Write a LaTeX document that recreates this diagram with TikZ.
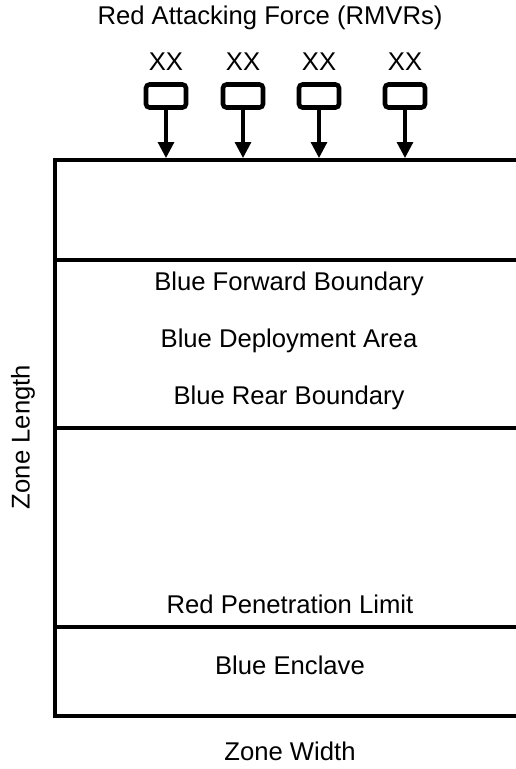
\documentclass[tikz,border=0pt]{standalone}
\usepackage{fontspec}
\setmainfont{Liberation Sans}
\usetikzlibrary{positioning,arrows.meta}

\begin{document}
\begin{tikzpicture}[
  x=0.02cm, y=-0.02cm,
  lbl/.style={font=\fontsize{14.6}{17}\selectfont},
  unit/.style={draw, line width=2.6pt, rounded corners=2pt, minimum width=0.8cm, minimum height=0.46cm, inner sep=0pt},
  arr/.style={-{Triangle[length=3.2mm, width=3.2mm]}, line width=1.8pt},
  zone/.style={line width=1.8pt},
  node distance=3pt
]
  \useasboundingbox (0,0) rectangle (516,769);

  % attacking divisions
  \node[lbl] (title) at (270,18) {Red Attacking Force (RMVRs)};
  \node[unit] (u1) at (166,96) {};
  \node[unit] (u2) at (243,96) {};
  \node[unit] (u3) at (319,96) {};
  \node[unit] (u4) at (405,96) {};
  \node[lbl, above=of u1] (x1) {XX};
  \node[lbl, above=of u2] (x2) {XX};
  \node[lbl, above=of u3] (x3) {XX};
  \node[lbl, above=of u4] (x4) {XX};
  \coordinate (t1) at (166,158);
  \coordinate (t2) at (243,158);
  \coordinate (t3) at (319,158);
  \coordinate (t4) at (405,158);
  \draw[arr] (u1) -- (t1); \draw[arr] (u2) -- (t2);
  \draw[arr] (u3) -- (t3); \draw[arr] (u4) -- (t4);

  % zone
  \draw[zone] (516,160) -- (55,160) -- (55,716) -- (516,716);
  \draw[zone] (55,260) -- (516,260);
  \draw[zone] (55,428) -- (516,428);
  \draw[zone] (55,627) -- (516,627);

  \node[lbl] (fwd)  at (289,284) {Blue Forward Boundary};
  \node[lbl] (dep)  at (289,341) {Blue Deployment Area};
  \node[lbl] (rear) at (289,398) {Blue Rear Boundary};
  \node[lbl] (pen)  at (290,604) {Red Penetration Limit};
  \node[lbl] (encl) at (290,665) {Blue Enclave};
  \node[lbl] (wid)  at (290,751) {Zone Width};
  \node[lbl, rotate=90] (len) at (23,437) {Zone Length};
\end{tikzpicture}
\end{document}
